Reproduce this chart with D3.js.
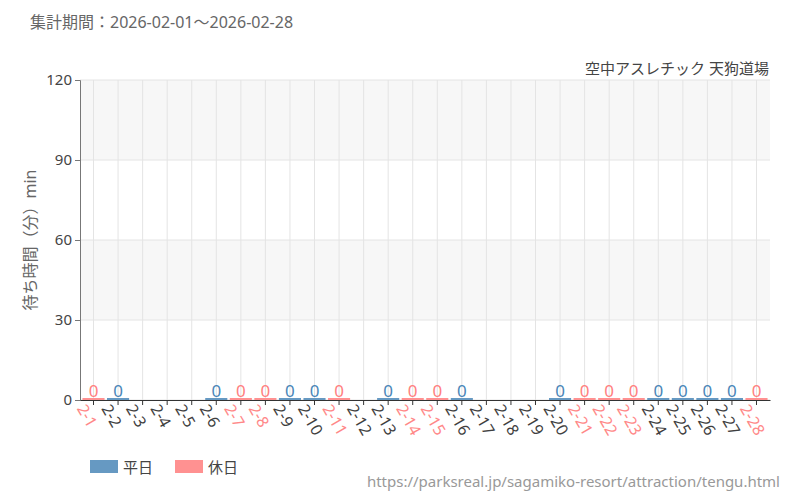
<!DOCTYPE html><html><head><meta charset="utf-8"><script src="https://cdn.jsdelivr.net/npm/d3@7"></script>
<style>body{margin:0;background:#fff}text{font-family:"Noto Sans","Noto Sans CJK JP",sans-serif}</style></head><body><svg width="800" height="500"></svg><script>
const days=["2-1","2-2","2-3","2-4","2-5","2-6","2-7","2-8","2-9","2-10","2-11","2-12","2-13","2-14","2-15","2-16","2-17","2-18","2-19","2-20","2-21","2-22","2-23","2-24","2-25","2-26","2-27","2-28"];
const holiday=[1,0,0,0,0,0,1,1,0,0,1,0,0,1,1,0,0,0,0,0,1,1,1,0,0,0,0,1];
const waits=[0,0,null,null,null,0,0,0,0,0,0,null,0,0,0,0,null,null,null,0,0,0,0,0,0,0,0,0];
const yTicks=[0,30,60,90,120];
const svg=d3.select("svg"),L=80,R=770,T=80,B=400;
const x=d3.scaleBand().domain(days).range([L,R]).padding(0.1);
const y=d3.scaleLinear().domain([0,120]).range([B,T]);
const cW="#6699c2",cH="#ff9191",tW="#3f3f3f",tH="#ff8888";
[[30,60],[90,120]].forEach(([a,b])=>svg.append("rect").attr("x",L).attr("width",R-L).attr("y",y(b)).attr("height",y(a)-y(b)).attr("fill","#f7f7f7"));
yTicks.forEach(t=>svg.append("line").attr("x1",L).attr("x2",R).attr("y1",y(t)).attr("y2",y(t)).attr("stroke","#e4e4e4"));
days.forEach(d=>svg.append("line").attr("x1",x(d)+x.bandwidth()/2).attr("x2",x(d)+x.bandwidth()/2).attr("y1",T).attr("y2",B).attr("stroke","#e4e4e4"));
const ya=svg.append("g").attr("transform",`translate(${L},0)`).call(d3.axisLeft(y).tickValues(yTicks).tickSize(5));
ya.selectAll("text").attr("font-size",15).attr("fill","#444");ya.select(".domain").attr("stroke","#777");ya.selectAll(".tick line").attr("stroke","#777");
days.forEach((d,i)=>{if(waits[i]==null)return;const c=holiday[i]?cH:cW;
svg.append("rect").attr("x",x(d)).attr("width",x.bandwidth()).attr("y",y(waits[i])-2).attr("height",Math.max(2,y(0)-y(waits[i]))).attr("fill",c);
svg.append("text").attr("x",x(d)+x.bandwidth()/2).attr("y",y(waits[i])-3).attr("text-anchor","middle").attr("font-size",17).attr("fill",holiday[i]?"#ff8080":"#4a86b8").text(waits[i]);});
const xa=svg.append("g").attr("transform",`translate(0,${B})`).call(d3.axisBottom(x).tickSize(5).tickSizeOuter(0));
xa.select(".domain").attr("stroke","#333");xa.selectAll(".tick line").attr("stroke","#333");
xa.selectAll("text").attr("font-size",16).attr("fill",(d,i)=>holiday[i]?tH:tW).attr("text-anchor","start").attr("transform","translate(-6,2) rotate(60)").attr("dy","0.3em");
svg.append("text").attr("x",30).attr("y",28).attr("font-size",16).attr("fill","#666").text("集計期間：2026-02-01～2026-02-28");
svg.append("text").attr("x",769).attr("y",74).attr("text-anchor","end").attr("font-size",15).attr("fill","#444").text("空中アスレチック 天狗道場");
svg.append("text").attr("transform","translate(36,240) rotate(-90)").attr("text-anchor","middle").attr("font-size",16).attr("fill","#666").text("待ち時間（分）min");
svg.append("rect").attr("x",90).attr("y",460).attr("width",28).attr("height",13).attr("fill",cW);
svg.append("text").attr("x",123).attr("y",473).attr("font-size",15).attr("fill","#444").text("平日");
svg.append("rect").attr("x",175).attr("y",460).attr("width",28).attr("height",13).attr("fill",cH);
svg.append("text").attr("x",208).attr("y",473).attr("font-size",15).attr("fill","#444").text("休日");
svg.append("text").attr("x",780).attr("y",487).attr("text-anchor","end").attr("font-size",15).attr("fill","#999").text("https://parksreal.jp/sagamiko-resort/attraction/tengu.html");
</script></body></html>
